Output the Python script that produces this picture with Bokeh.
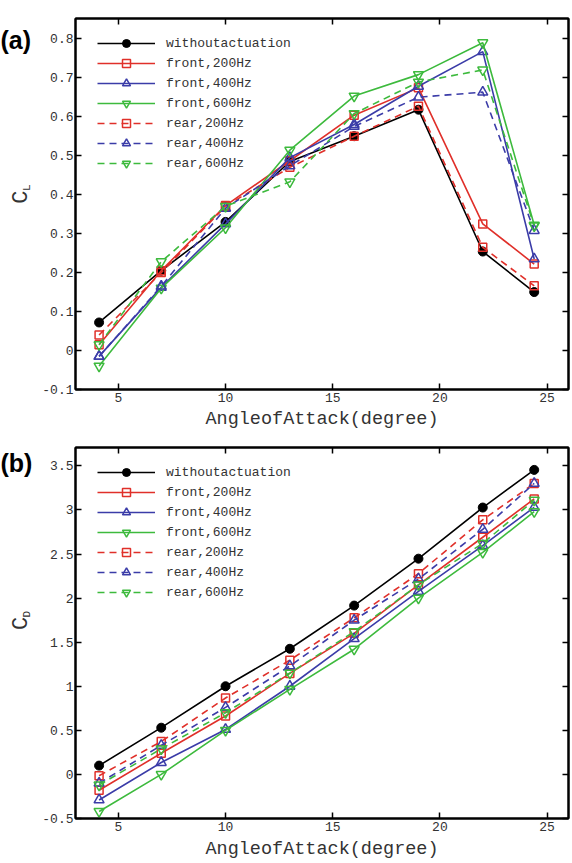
from bokeh.plotting import figure
from bokeh.models import (Legend, LegendItem, LinearAxis, FixedTicker,
                          NumeralTickFormatter, Range1d)
from bokeh.core.properties import value
from bokeh.layouts import column, row
from bokeh.embed import file_html
from bokeh.resources import INLINE

# ---------------- data ----------------
angle = [4.1, 7, 10, 13, 16, 19, 22, 24.4]
series_names = ["withoutactuation", "front,200Hz", "front,400Hz", "front,600Hz",
                "rear,200Hz", "rear,400Hz", "rear,600Hz"]

cl_without = [0.072, 0.205, 0.33, 0.485, 0.55, 0.618, 0.254, 0.15]
cl_front200 = [0.015, 0.205, 0.372, 0.487, 0.604, 0.674, 0.325, 0.222]
cl_front400 = [-0.015, 0.162, 0.325, 0.495, 0.58, 0.678, 0.767, 0.235]
cl_front600 = [-0.04, 0.16, 0.315, 0.514, 0.653, 0.708, 0.79, 0.322]
cl_rear200 = [0.04, 0.2, 0.37, 0.47, 0.55, 0.627, 0.265, 0.166]
cl_rear400 = [-0.015, 0.165, 0.365, 0.474, 0.575, 0.65, 0.663, 0.308]
cl_rear600 = [0.015, 0.228, 0.37, 0.433, 0.608, 0.689, 0.72, 0.32]

cd_without = [0.1, 0.53, 1.0, 1.425, 1.915, 2.447, 3.027, 3.454]
cd_front200 = [-0.18, 0.24, 0.663, 1.146, 1.6, 2.15, 2.69, 3.125]
cd_front400 = [-0.29, 0.135, 0.51, 1.0, 1.54, 2.077, 2.594, 3.03]
cd_front600 = [-0.42, 0.0, 0.5, 0.965, 1.42, 2.0, 2.518, 2.98]
cd_rear200 = [-0.015, 0.373, 0.867, 1.296, 1.776, 2.277, 2.888, 3.30]
cd_rear400 = [-0.1, 0.33, 0.76, 1.23, 1.75, 2.217, 2.78, 3.30]
cd_rear600 = [-0.12, 0.29, 0.70, 1.15, 1.62, 2.15, 2.62, 3.11]

x_ticks = [5, 10, 15, 20, 25]
cl_ticks = [-0.1, 0, 0.1, 0.2, 0.3, 0.4, 0.5, 0.6, 0.7, 0.8]
cd_ticks = [-0.5, 0, 0.5, 1, 1.5, 2, 2.5, 3, 3.5]

# ---------------- styles ----------------
BLACK, RED, BLUE, GREEN = "#000000", "#e0302a", "#3b3ca8", "#3dba3d"
styles = [
    (BLACK, "solid", "circle"),
    (RED, "solid", "square"),
    (BLUE, "solid", "triangle"),
    (GREEN, "solid", "inverted_triangle"),
    (RED, "7 5", "square"),
    (BLUE, "7 5", "triangle"),
    (GREEN, "7 5", "inverted_triangle"),
]
MONO = "Liberation Mono"
TXT = "#333333"
STRIP_W = 39
MAIN_W = 531


def style_axis(ax, labels=True):
    ax.major_tick_in = 6
    ax.major_tick_out = 0
    ax.minor_tick_in = 0
    ax.minor_tick_out = 0
    ax.minor_tick_line_color = None
    ax.axis_line_width = 2
    ax.axis_line_color = "black"
    ax.major_tick_line_width = 1.5
    ax.major_tick_line_color = "black"
    if labels:
        ax.major_label_text_font = MONO
        ax.major_label_text_font_size = "13px"
        ax.major_label_text_color = TXT
        ax.major_label_standoff = 2
    else:
        ax.major_label_text_font_size = "0px"
        ax.major_label_text_alpha = 0
        ax.major_label_standoff = 0


def make_strip(height, tag, sub, c_y, tag_base):
    s = figure(width=STRIP_W, height=height, x_range=Range1d(0, STRIP_W),
               y_range=Range1d(0, height), output_backend="svg",
               toolbar_location=None, x_axis_type=None, y_axis_type=None,
               min_border=0, min_border_left=0, min_border_right=0,
               min_border_top=0, min_border_bottom=0)
    s.title.visible = False
    s.outline_line_color = None
    s.xgrid.visible = False
    s.ygrid.visible = False
    s.text(x=[0], y=[height - tag_base], text=[tag],
           text_font=value("Liberation Sans"), text_font_style="bold",
           text_font_size="25px", text_color="black",
           text_align="left", text_baseline="alphabetic")
    s.text(x=[21], y=[height - c_y], text=["C"], angle=1.5708,
           text_font=value(MONO), text_font_size="22px", text_color=TXT,
           text_align="center", text_baseline="alphabetic")
    s.text(x=[26], y=[height - c_y + 7], text=[sub], angle=1.5708,
           text_font=value(MONO), text_font_size="11px", text_color=TXT,
           text_align="left", text_baseline="alphabetic")
    return s


def make_panel(series, y_ticks, y0, y1, height, border_top, legend_bottom,
               label_standoff):
    p = figure(width=MAIN_W, height=height, x_range=Range1d(3, 26),
               y_range=Range1d(y0, y1), output_backend="svg",
               toolbar_location=None, min_border_left=34, min_border_right=2,
               min_border_top=border_top, min_border_bottom=20)
    p.xgrid.visible = False
    p.ygrid.visible = False
    p.outline_line_color = "black"
    p.outline_line_width = 2

    p.xaxis.ticker = FixedTicker(ticks=x_ticks)
    p.yaxis.ticker = FixedTicker(ticks=y_ticks)
    p.yaxis.formatter = NumeralTickFormatter(format="0.[0]")
    p.xaxis.formatter = NumeralTickFormatter(format="0")
    style_axis(p.xaxis[0])
    style_axis(p.yaxis[0])
    p.xaxis.major_label_standoff = 3
    p.xaxis.axis_label = "AngleofAttack(degree)"
    p.xaxis.axis_label_text_font = MONO
    p.xaxis.axis_label_text_font_style = "normal"
    p.xaxis.axis_label_text_font_size = "18.5px"
    p.xaxis.axis_label_text_color = TXT
    p.xaxis.axis_label_standoff = label_standoff

    top = LinearAxis(ticker=FixedTicker(ticks=x_ticks))
    style_axis(top, labels=False)
    p.add_layout(top, "above")
    right = LinearAxis(ticker=FixedTicker(ticks=y_ticks))
    style_axis(right, labels=False)
    p.add_layout(right, "right")

    items = []
    for name, ys, (col, dash, mk) in zip(series_names, series, styles):
        lr = p.line(angle, ys, line_color=col, line_width=1.6, line_dash=dash)
        if mk == "circle":
            sr = p.scatter(angle, ys, marker="circle", size=9,
                           fill_color=col, line_color=col)
        else:
            sz = 8 if mk == "square" else 10
            sr = p.scatter(angle, ys, marker=mk, size=sz, fill_alpha=0,
                           line_color=col, line_width=1.5)
        items.append(LegendItem(label=name, renderers=[lr, sr]))

    leg = Legend(items=items, location=(22, legend_bottom))
    leg.label_text_font = MONO
    leg.label_text_font_size = "13px"
    leg.label_text_color = TXT
    leg.glyph_width = 58
    leg.glyph_height = 20
    leg.label_height = 20
    leg.label_standoff = 11
    leg.spacing = 0
    leg.padding = 0
    leg.margin = 0
    leg.border_line_alpha = 0
    leg.background_fill_alpha = 0
    p.add_layout(leg)
    return p


HA, HB = 432, 430
pa = make_panel([cl_without, cl_front200, cl_front400, cl_front600,
                 cl_rear200, cl_rear400, cl_rear600],
                cl_ticks, -0.1, 0.852, HA, 18, 216, 4)
pb = make_panel([cd_without, cd_front200, cd_front400, cd_front600,
                 cd_rear200, cd_rear400, cd_rear600],
                cd_ticks, -0.5, 3.708, HB, 15, 216, 5)
sa = make_strip(HA, "(a)", "L", 208, 25)
sb = make_strip(HB, "(b)", "D", 204, 18)

layout = column(row(sa, pa), row(sb, pb))
open("out.html", "w").write(file_html(layout, INLINE))
